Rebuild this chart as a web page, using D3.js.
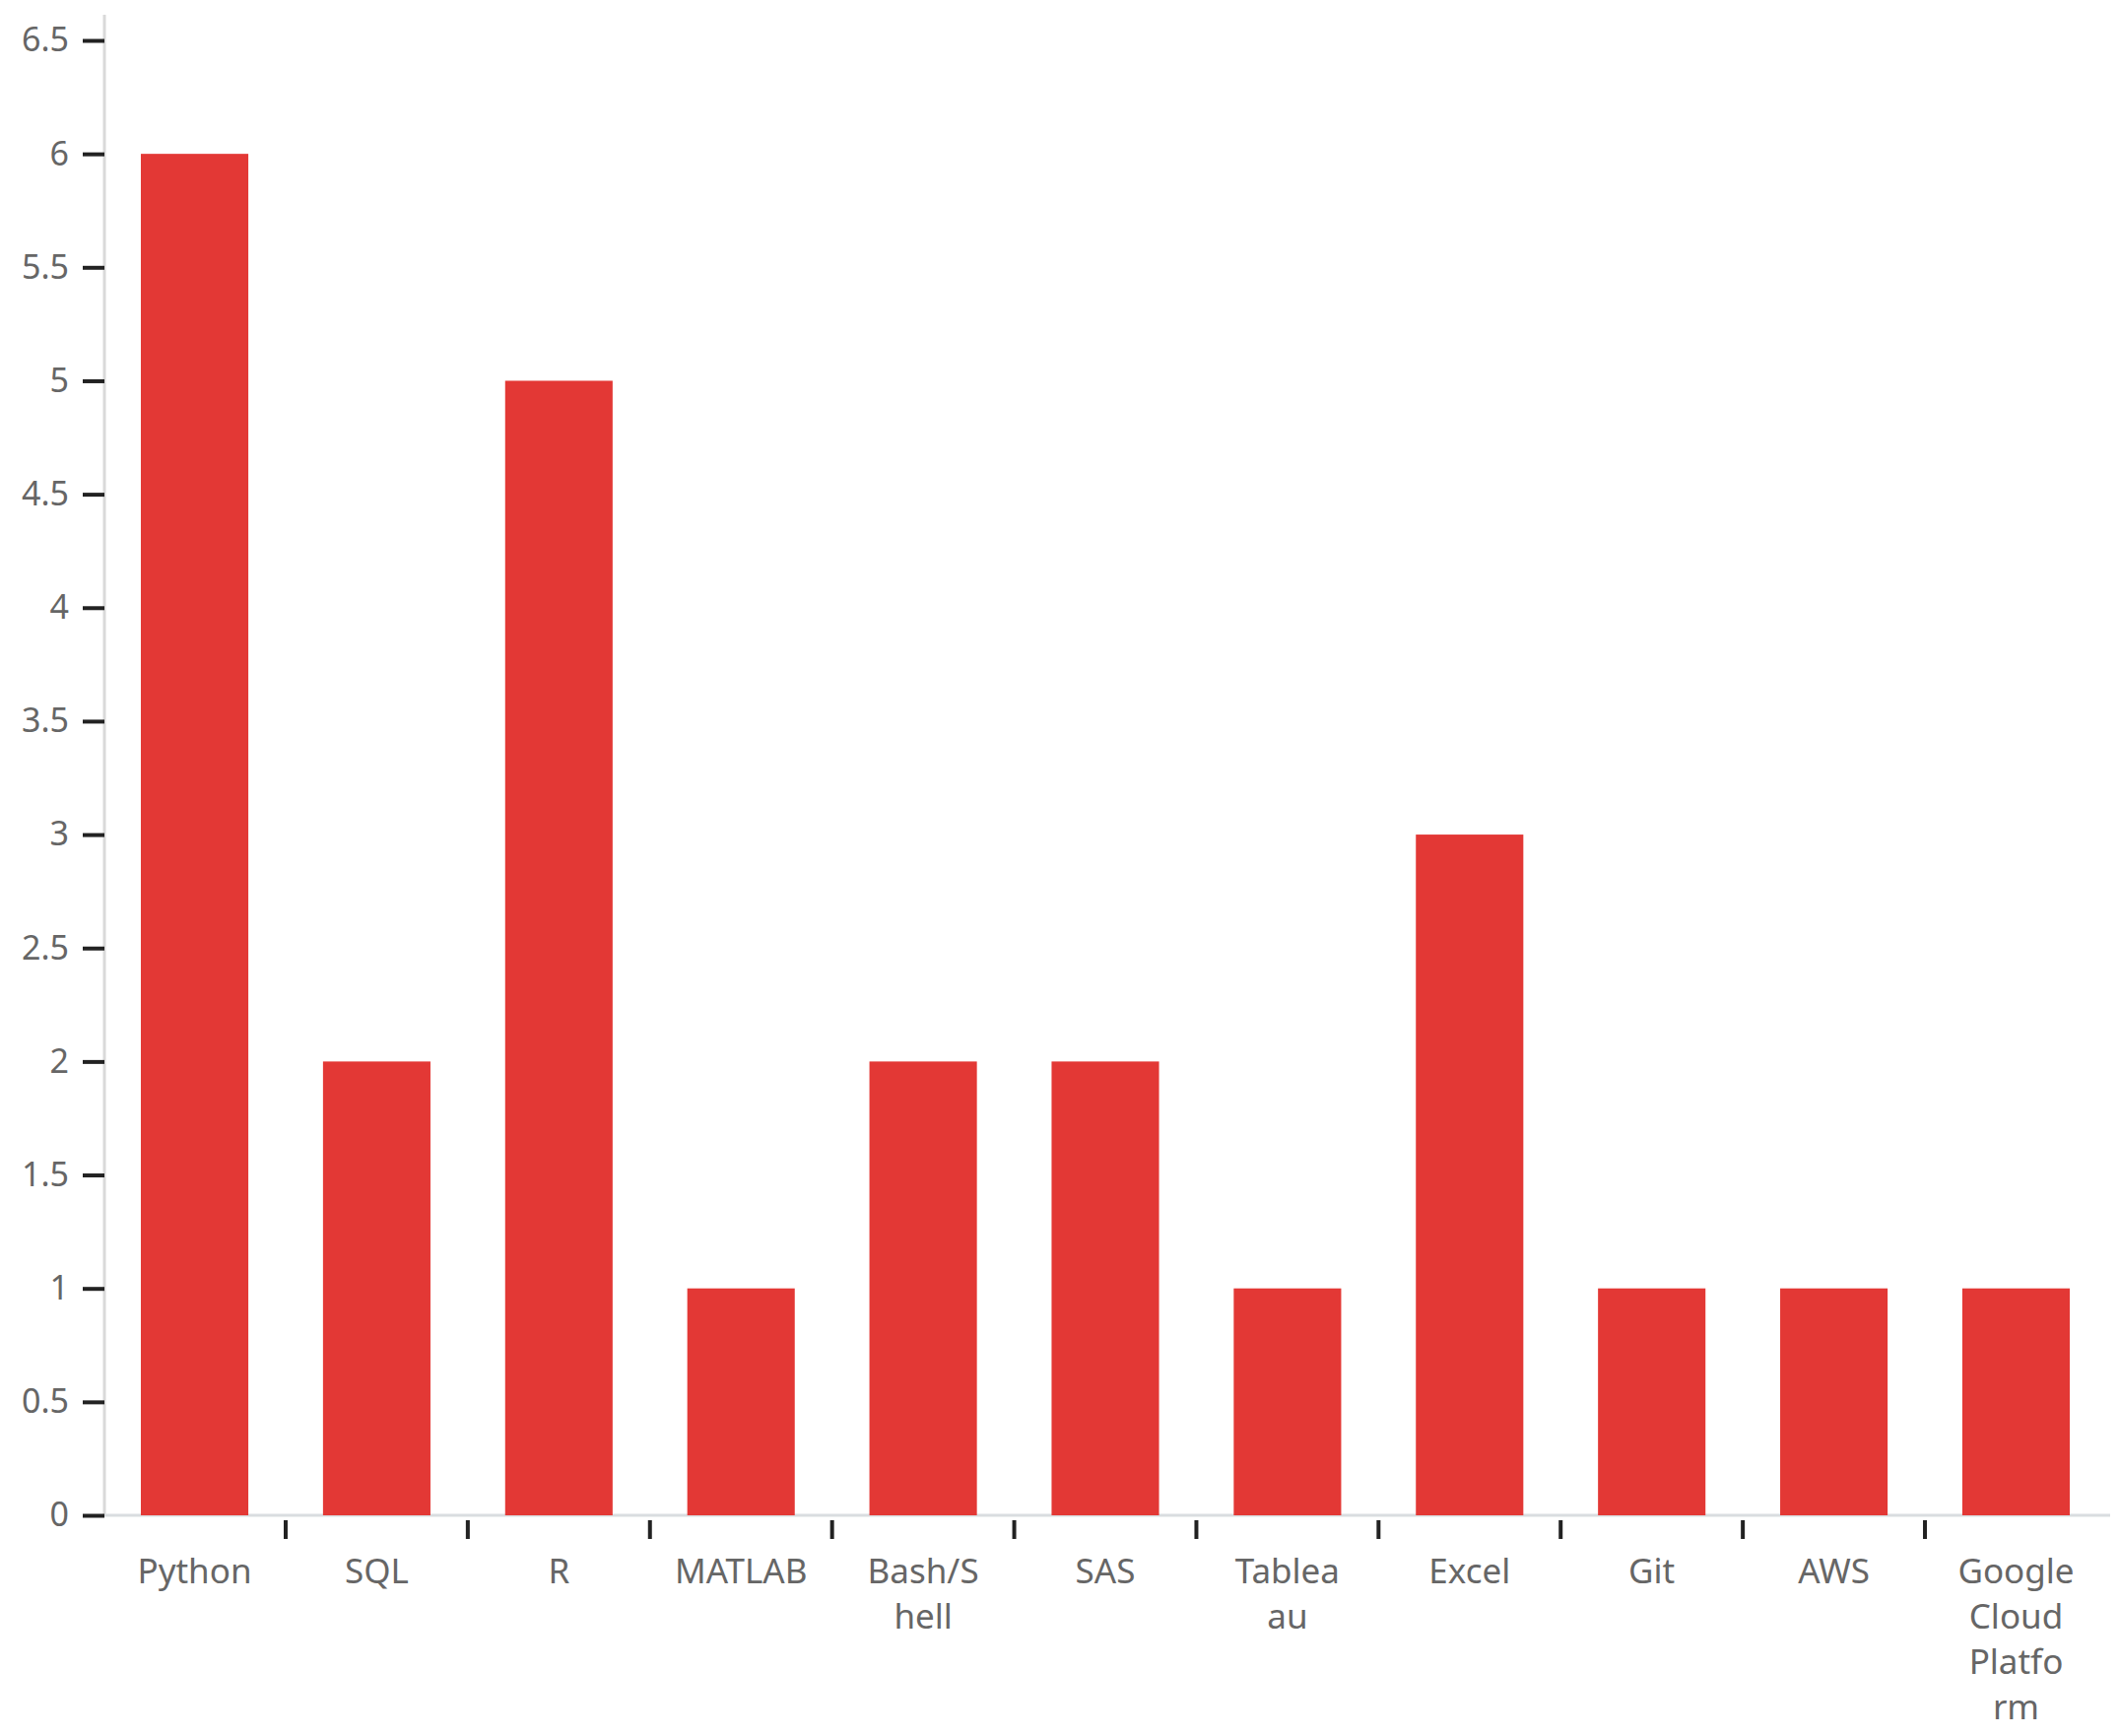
<!DOCTYPE html>
<html><head><meta charset="utf-8">
<script src="https://cdn.jsdelivr.net/npm/d3@7"></script>
<style>body{margin:0;background:#fff}</style></head>
<body><svg id="c" width="2151" height="1762"></svg>
<script>
const categories = ["Python","SQL","R","MATLAB","Bash/Shell","SAS","Tableau","Excel","Git","AWS","Google Cloud Platform"];
const labelLines = [["Python"],["SQL"],["R"],["MATLAB"],["Bash/S","hell"],["SAS"],["Tablea","au"],["Excel"],["Git"],["AWS"],["Google","Cloud","Platfo","rm"]];
const values = [6,2,5,1,2,2,1,3,1,1,1];
const yTicks = [0,0.5,1,1.5,2,2.5,3,3.5,4,4.5,5,5.5,6,6.5];

const svg = d3.select("#c");
const x = d3.scaleBand().domain(categories).range([106,2138]).paddingInner(0.41).paddingOuter(0.2);
const y = d3.scaleLinear().domain([0,6.5]).range([1538,41]);
const font = "'Noto Sans', sans-serif";
const y0 = y(0);

svg.append("line").attr("x1",106).attr("x2",106).attr("y1",15).attr("y2",y0).attr("stroke","#d9d9d9").attr("stroke-width",3);
svg.append("line").attr("x1",106).attr("x2",2142).attr("y1",y0).attr("y2",y0).attr("stroke","#d9dde0").attr("stroke-width",3);

svg.selectAll("rect.bar").data(values).enter().append("rect")
  .attr("x",(d,i)=>x(categories[i])).attr("width",x.bandwidth())
  .attr("y",d=>y(d)).attr("height",d=>y(0)-y(d)).attr("fill","#e33835");

const ya = svg.append("g").attr("transform","translate(106,0)")
  .call(d3.axisLeft(y).tickValues(yTicks).tickSize(22).tickPadding(14).tickFormat(d3.format("~g")));
ya.select(".domain").remove();
ya.selectAll(".tick line").attr("stroke","#222").attr("stroke-width",4);
ya.selectAll("text").attr("font-family",font).attr("font-size",34).attr("fill","#666");

const step = x.step();
const bounds = categories.slice(1).map(c=>x(c)-(step-x.bandwidth())/2);
svg.selectAll("line.xt").data(bounds).enter().append("line")
  .attr("x1",d=>d).attr("x2",d=>d).attr("y1",y0+5).attr("y2",y0+24)
  .attr("stroke","#222").attr("stroke-width",4);

const lbl = svg.selectAll("text.xl").data(labelLines).enter().append("text")
  .attr("x",(d,i)=>x(categories[i])+x.bandwidth()/2).attr("y",1607)
  .attr("text-anchor","middle").attr("font-family",font).attr("font-size",35).attr("fill","#666");
lbl.selectAll("tspan").data(d=>d).enter().append("tspan")
  .attr("x",function(){return this.parentNode.getAttribute("x");})
  .attr("dy",(d,i)=>i===0?0:46).text(d=>d);
</script></body></html>
